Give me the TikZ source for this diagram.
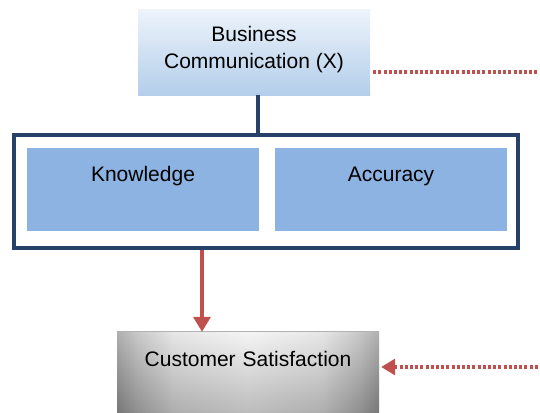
\documentclass[tikz,border=0pt]{standalone}
\usepackage{fontspec}
\setmainfont{Liberation Sans}
\usetikzlibrary{arrows.meta}
\definecolor{navy}{RGB}{40,65,105}
\definecolor{innerblue}{RGB}{141,179,226}
\definecolor{lightblue}{RGB}{236,243,251}
\definecolor{midblue}{RGB}{180,206,234}
\definecolor{redline}{RGB}{192,80,77}
\pgfdeclarehorizontalshading{csshade}{100bp}{color(0bp)=(black!40); color(25bp)=(black!40); color(29bp)=(black!27); color(36bp)=(black!12); color(50bp)=(black!5); color(64bp)=(black!12); color(71bp)=(black!27); color(75bp)=(black!40); color(100bp)=(black!40)}
\tikzset{
  txt/.style={font=\fontsize{21}{27}\selectfont},
  topbox/.style={txt, inner sep=0pt, minimum width=232pt, minimum height=85pt, top color=lightblue, bottom color=midblue, align=center},
  innerbox/.style={txt, fill=innerblue, inner sep=0pt, text width=232pt, align=center, text height=33pt, text depth=50pt},
  outerbox/.style={draw=navy, line width=3.2pt, fill=white, inner sep=0pt},
  csbox/.style={txt, inner sep=0pt, text width=262pt, align=center, text height=34pt, text depth=46pt},
  navyline/.style={draw=navy, line width=3.6pt},
  redarrow/.style={draw=redline, line width=3.4pt, -{Triangle[length=15pt,width=17pt]}},
  reddots/.style={draw=redline, line width=3.2pt, dash pattern=on 3pt off 2.2pt},
}
\begin{document}
\begin{tikzpicture}[x=1pt,y=-1pt]
\useasboundingbox (0,0) rectangle (540,412);
% outer frame
\node[outerbox, minimum width=504pt, minimum height=113pt] (outer) at (266,191.5) {};
% inner boxes
\node[innerbox] (know) at (143,181) [anchor=base] {Knowledge};
\node[innerbox] (acc) at (391,181) [anchor=base] {Accuracy};
% top box
\node[topbox] (biz) at (254,52.5) {};
\node[txt, align=center, inner sep=0pt] (biztext) at (254,50) {Business\\Communication (X)};
% bottom box
\shade[shading=csshade] (117,332) rectangle (379,412);
\shade[top color=white, bottom color=black, opacity=0.22] (117,332) rectangle (379,412);
\node[csbox] (cs) at (248,366) [anchor=base] {Customer Satisfaction};
\draw[gray!60, line width=0.7pt] (cs.north west) -- (cs.north east);
% connectors
\draw[navyline] (biz.south -| 258,0) -- (outer.north -| 258,0);
\draw[redarrow] (outer.south -| 202,0) -- (cs.north -| 202,0);
\coordinate (topend) at (540,72);
\coordinate (botend) at (540,367);
\draw[reddots] ([xshift=3pt]biz.east |- topend) -- (topend);
\draw[reddots, {Triangle[length=14pt,width=16pt]}-] ([xshift=2pt]cs.east |- botend) -- (botend);
\end{tikzpicture}
\end{document}
